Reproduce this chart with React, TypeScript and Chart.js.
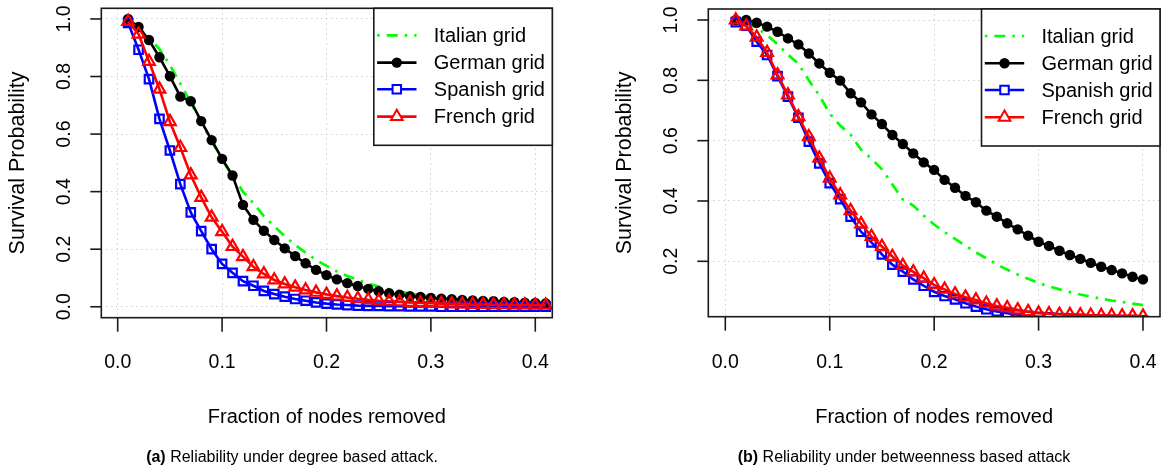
import React, { useEffect, useRef } from "react";
import { Chart, registerables } from "chart.js";

Chart.register(...registerables);

// ---------- data ----------
const seriesNames = ["Italian grid", "German grid", "Spanish grid", "French grid"];

// (a) degree based attack
const xDegree = [
  0.01, 0.02, 0.03, 0.04, 0.05, 0.06, 0.07, 0.08, 0.09, 0.1,
  0.11, 0.12, 0.13, 0.14, 0.15, 0.16, 0.17, 0.18, 0.19, 0.2,
  0.21, 0.22, 0.23, 0.24, 0.25, 0.26, 0.27, 0.28, 0.29, 0.3,
  0.31, 0.32, 0.33, 0.34, 0.35, 0.36, 0.37, 0.38, 0.39, 0.4, 0.41,
];
const italianDegree = [
  1.0, 0.97, 0.935, 0.895, 0.84, 0.775, 0.71, 0.64, 0.575, 0.51,
  0.455, 0.4, 0.36, 0.315, 0.28, 0.245, 0.215, 0.188, 0.163, 0.142,
  0.123, 0.107, 0.093, 0.081, 0.07, 0.061, 0.053, 0.046, 0.04, 0.035,
  0.031, 0.027, 0.024, 0.021, 0.019, 0.017, 0.015, 0.014, 0.013, 0.012, 0.011,
];
const germanDegree = [
  1.0, 0.972, 0.927, 0.867, 0.801, 0.73, 0.714, 0.645, 0.579, 0.514,
  0.456, 0.354, 0.302, 0.264, 0.232, 0.203, 0.176, 0.151, 0.128, 0.11,
  0.095, 0.082, 0.072, 0.062, 0.054, 0.047, 0.042, 0.037, 0.034, 0.031,
  0.028, 0.026, 0.024, 0.022, 0.02, 0.019, 0.017, 0.016, 0.014, 0.013, 0.012,
];
const spanishDegree = [
  0.986, 0.893, 0.791, 0.653, 0.543, 0.426, 0.328, 0.263, 0.2, 0.149,
  0.118, 0.089, 0.073, 0.055, 0.044, 0.035, 0.027, 0.021, 0.015, 0.011,
  0.008, 0.006, 0.004, 0.003, 0.003, 0.002, 0.002, 0.001, 0.001, 0.001,
  0.0, 0.0, 0.0, 0.0, 0.0, 0.0, 0.0, 0.0, 0.0, 0.0, 0.0,
];
const frenchDegree = [
  0.991, 0.947, 0.852, 0.756, 0.643, 0.553, 0.458, 0.38, 0.311, 0.261,
  0.209, 0.174, 0.139, 0.114, 0.093, 0.079, 0.068, 0.058, 0.05, 0.043,
  0.037, 0.032, 0.028, 0.024, 0.021, 0.019, 0.017, 0.015, 0.013, 0.012,
  0.011, 0.01, 0.009, 0.008, 0.008, 0.007, 0.007, 0.006, 0.006, 0.005, 0.005,
];

// (b) betweenness based attack
const xBetween = [
  0.01, 0.02, 0.03, 0.04, 0.05, 0.06, 0.07, 0.08, 0.09, 0.1,
  0.11, 0.12, 0.13, 0.14, 0.15, 0.16, 0.17, 0.18, 0.19, 0.2,
  0.21, 0.22, 0.23, 0.24, 0.25, 0.26, 0.27, 0.28, 0.29, 0.3,
  0.31, 0.32, 0.33, 0.34, 0.35, 0.36, 0.37, 0.38, 0.39, 0.4,
];
const italianBetween = [
  1.0, 0.99, 0.975, 0.95, 0.92, 0.885, 0.855, 0.8, 0.75, 0.69,
  0.65, 0.62, 0.57, 0.54, 0.505, 0.455, 0.405, 0.385, 0.352, 0.322,
  0.297, 0.274, 0.252, 0.23, 0.21, 0.19, 0.172, 0.156, 0.142, 0.128,
  0.117, 0.107, 0.098, 0.09, 0.083, 0.076, 0.07, 0.065, 0.06, 0.055,
];
const germanBetween = [
  1.0, 1.0, 0.991, 0.978, 0.961, 0.939, 0.919, 0.889, 0.856, 0.825,
  0.799, 0.757, 0.727, 0.687, 0.655, 0.619, 0.589, 0.558, 0.528, 0.503,
  0.47, 0.444, 0.417, 0.396, 0.368, 0.348, 0.326, 0.306, 0.285, 0.265,
  0.251, 0.235, 0.221, 0.208, 0.195, 0.182, 0.171, 0.16, 0.149, 0.14,
];
const spanishBetween = [
  0.993, 0.981, 0.928, 0.884, 0.814, 0.746, 0.676, 0.597, 0.525, 0.459,
  0.406, 0.348, 0.298, 0.263, 0.223, 0.189, 0.166, 0.14, 0.119, 0.099,
  0.085, 0.074, 0.061, 0.05, 0.041, 0.034, 0.028, 0.023, 0.019, 0.016,
  0.014, 0.012, 0.01, 0.009, 0.008, 0.007, 0.006, 0.005, 0.005, 0.004,
];
const frenchBetween = [
  1.0, 0.98, 0.943, 0.892, 0.818, 0.751, 0.679, 0.613, 0.542, 0.475,
  0.42, 0.368, 0.324, 0.282, 0.249, 0.216, 0.186, 0.165, 0.144, 0.122,
  0.107, 0.092, 0.081, 0.072, 0.061, 0.052, 0.046, 0.039, 0.033, 0.028,
  0.026, 0.024, 0.023, 0.022, 0.021, 0.02, 0.02, 0.019, 0.019, 0.018,
];

const xTicks = [0, 0.1, 0.2, 0.3, 0.4];
const xTickLabels = ["0.0", "0.1", "0.2", "0.3", "0.4"];
const yTicksDegree = [0, 0.2, 0.4, 0.6, 0.8, 1.0];
const yTickLabelsDegree = ["0.0", "0.2", "0.4", "0.6", "0.8", "1.0"];
const yTicksBetween = [0.2, 0.4, 0.6, 0.8, 1.0];
const yTickLabelsBetween = ["0.2", "0.4", "0.6", "0.8", "1.0"];

const xTitle = "Fraction of nodes removed";
const yTitle = "Survival Probability";
const captionA = ["(a)", " Reliability under degree based attack."];
const captionB = ["(b)", " Reliability under betweenness based attack"];

// ---------- styles ----------
const FONT = '"Liberation Sans", Arial, Helvetica, sans-serif';
const COLORS = ["#00ff00", "#000000", "#0000ff", "#ff0000"];
const STYLES = ["none", "circle", "rect", "triangle"];
const GREEN_DASH = [2.6, 7, 11, 7];
const LINE_W = [2.7, 2.6, 2.6, 2.6];
const POINT_R = [0, 5.2, 6.0, 6.8];

type PanelSpec = {
  xs: number[];
  series: number[][];
  xMin: number;
  xMax: number;
  yMin: number;
  yMax: number;
  yTicks: number[];
  yTickLabels: string[];
  padding: { left: number; right: number; top: number; bottom: number };
};

function markerPath(ctx: CanvasRenderingContext2D, style: string, x: number, y: number, r: number) {
  ctx.beginPath();
  if (style === "circle") {
    ctx.arc(x, y, r, 0, Math.PI * 2);
  } else if (style === "rect") {
    const s = Math.SQRT1_2 * r;
    ctx.rect(x - s, y - s, 2 * s, 2 * s);
  } else if (style === "triangle") {
    for (let i = 0; i < 3; i++) {
      const a = (i * 2 * Math.PI) / 3;
      const px = x + Math.sin(a) * r;
      const py = y - Math.cos(a) * r;
      if (i === 0) ctx.moveTo(px, py);
      else ctx.lineTo(px, py);
    }
    ctx.closePath();
  }
}

function makeDecor(spec: PanelSpec) {
  return {
    id: "rDecor",
    afterDraw(chart: any) {
      const { ctx, chartArea: a, scales } = chart;
      const xs = scales.x;
      const ys = scales.y;
      ctx.save();
      // box
      ctx.strokeStyle = "#1a1a1a";
      ctx.lineWidth = 1.6;
      ctx.setLineDash([]);
      ctx.strokeRect(a.left, a.top, a.right - a.left, a.bottom - a.top);

      // x ticks + labels
      ctx.fillStyle = "#000";
      ctx.font = `19.5px ${FONT}`;
      ctx.textAlign = "center";
      ctx.textBaseline = "alphabetic";
      xTicks.forEach((v, i) => {
        const px = xs.getPixelForValue(v);
        ctx.beginPath();
        ctx.moveTo(px, a.bottom);
        ctx.lineTo(px, a.bottom + 14);
        ctx.stroke();
        ctx.fillText(xTickLabels[i], px, 367.5);
      });
      // y ticks + rotated labels
      spec.yTicks.forEach((v, i) => {
        const py = ys.getPixelForValue(v);
        ctx.beginPath();
        ctx.moveTo(a.left - 11, py);
        ctx.lineTo(a.left, py);
        ctx.stroke();
        ctx.save();
        ctx.translate(a.left - 37, py);
        ctx.rotate(-Math.PI / 2);
        ctx.textAlign = "center";
        ctx.textBaseline = "middle";
        ctx.fillText(spec.yTickLabels[i], 0, 0);
        ctx.restore();
      });
      // axis titles
      ctx.font = `20px ${FONT}`;
      ctx.textAlign = "center";
      ctx.textBaseline = "alphabetic";
      ctx.fillText(xTitle, (a.left + a.right) / 2, 423);
      ctx.save();
      ctx.translate(a.left - 83, (a.top + a.bottom) / 2);
      ctx.rotate(-Math.PI / 2);
      ctx.font = `21.5px ${FONT}`;
      ctx.textBaseline = "middle";
      ctx.fillText(yTitle, 0, 0);
      ctx.restore();

      // legend
      const lw = 178.5;
      const lh = 137;
      const lx = a.right - lw;
      const ly = a.top;
      ctx.fillStyle = "#fff";
      ctx.fillRect(lx, ly, lw, lh);
      ctx.strokeStyle = "#1a1a1a";
      ctx.lineWidth = 1.6;
      ctx.strokeRect(lx, ly, lw, lh);
      const rows = [27, 54.3, 81, 108.3];
      seriesNames.forEach((name, i) => {
        const cy = ly + rows[i];
        const x1 = lx + 3.3;
        const x2 = lx + 42.7;
        ctx.strokeStyle = COLORS[i];
        ctx.lineWidth = LINE_W[i];
        ctx.setLineDash(i === 0 ? GREEN_DASH : []);
        ctx.beginPath();
        ctx.moveTo(x1, cy);
        ctx.lineTo(x2, cy);
        ctx.stroke();
        ctx.setLineDash([]);
        if (STYLES[i] !== "none") {
          markerPath(ctx, STYLES[i], (x1 + x2) / 2, cy, POINT_R[i]);
          if (STYLES[i] === "circle") {
            ctx.fillStyle = COLORS[i];
            ctx.fill();
          } else {
            ctx.fillStyle = "#fff";
            ctx.fill();
            ctx.lineWidth = 2;
            ctx.stroke();
          }
        }
        ctx.fillStyle = "#000";
        ctx.font = `20px ${FONT}`;
        ctx.textAlign = "left";
        ctx.textBaseline = "middle";
        ctx.fillText(name, lx + 60, cy + 1);
      });
      ctx.restore();
    },
  };
}

function Panel({ spec, left }: { spec: PanelSpec; left: number }) {
  const ref = useRef<HTMLCanvasElement | null>(null);
  useEffect(() => {
    const canvas = ref.current;
    if (!canvas) return;
    const datasets = spec.series.map((vals, i) => ({
      label: seriesNames[i],
      data: vals.map((v, j) => ({ x: spec.xs[j], y: v })),
      borderColor: COLORS[i],
      backgroundColor: STYLES[i] === "circle" ? COLORS[i] : "rgba(0,0,0,0)",
      borderWidth: LINE_W[i],
      borderDash: i === 0 ? GREEN_DASH : [],
      borderCapStyle: "butt" as const,
      pointStyle: STYLES[i] === "none" ? false : STYLES[i],
      pointRadius: POINT_R[i],
      pointBorderWidth: STYLES[i] === "circle" ? 0 : 2.2,
      pointBorderColor: COLORS[i],
      pointBackgroundColor: STYLES[i] === "circle" ? COLORS[i] : "rgba(0,0,0,0)",
      tension: 0,
      fill: false,
      order: 4 - i,
    }));
    const gridDash = [1.5, 3.5];
    const chart = new Chart(canvas, {
      type: "line",
      data: { datasets } as any,
      options: {
        animation: false,
        responsive: false,
        devicePixelRatio: 1,
        events: [],
        layout: { padding: spec.padding, autoPadding: false },
        plugins: {
          legend: { display: false },
          tooltip: { enabled: false },
          title: { display: false },
        },
        scales: {
          x: {
            type: "linear",
            min: spec.xMin,
            max: spec.xMax,
            afterBuildTicks: (s: any) => {
              s.ticks = xTicks.map((v) => ({ value: v }));
            },
            ticks: { display: false },
            grid: { color: "#cfcfcf", lineWidth: 1, drawTicks: false },
            border: { display: false, dash: gridDash },
          },
          y: {
            type: "linear",
            min: spec.yMin,
            max: spec.yMax,
            afterBuildTicks: (s: any) => {
              s.ticks = spec.yTicks.map((v) => ({ value: v }));
            },
            ticks: { display: false },
            grid: { color: "#cfcfcf", lineWidth: 1, drawTicks: false },
            border: { display: false, dash: gridDash },
          },
        },
      } as any,
      plugins: [makeDecor(spec)],
    });
    return () => chart.destroy();
  }, [spec]);
  return (
    <canvas
      ref={ref}
      width={581}
      height={472}
      style={{ position: "absolute", left, top: 0, width: 581, height: 472, display: "block" }}
    />
  );
}

const specA: PanelSpec = {
  xs: xDegree,
  series: [italianDegree, germanDegree, spanishDegree, frenchDegree],
  xMin: -0.0157,
  xMax: 0.4163,
  yMin: -0.038,
  yMax: 1.037,
  yTicks: yTicksDegree,
  yTickLabels: yTickLabelsDegree,
  padding: { left: 101.3, right: 28.7, top: 8.3, bottom: 154.3 },
};

const specB: PanelSpec = {
  xs: xBetween,
  series: [italianBetween, germanBetween, spanishBetween, frenchBetween],
  xMin: -0.0163,
  xMax: 0.4163,
  yMin: 0.0164,
  yMax: 1.0365,
  yTicks: yTicksBetween,
  yTickLabels: yTickLabelsBetween,
  padding: { left: 127.3, right: 2, top: 9, bottom: 155.3 },
};

const captionStyle: React.CSSProperties = {
  position: "absolute",
  top: 448.5,
  width: 600,
  textAlign: "center",
  fontFamily: FONT,
  fontSize: 16,
  lineHeight: "16px",
  color: "#000",
  whiteSpace: "nowrap",
};

export default function App() {
  return (
    <div
      style={{
        position: "fixed",
        left: 0,
        top: 0,
        width: 1162,
        height: 472,
        background: "#fff",
        overflow: "hidden",
      }}
    >
      <Panel spec={specA} left={0} />
      <Panel spec={specB} left={581} />
      <div style={{ ...captionStyle, left: 292 - 300 }}>
        <b>{captionA[0]}</b>
        {captionA[1]}
      </div>
      <div style={{ ...captionStyle, left: 904 - 300 }}>
        <b>{captionB[0]}</b>
        {captionB[1]}
      </div>
    </div>
  );
}
